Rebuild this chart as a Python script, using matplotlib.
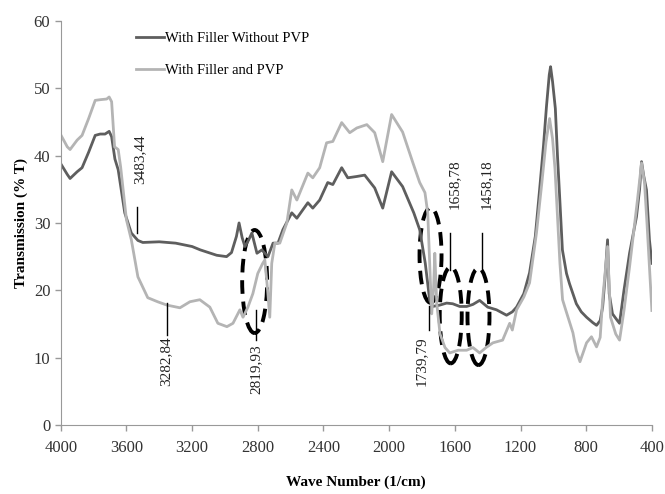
import matplotlib.pyplot as plt
from matplotlib.patches import Ellipse

# FTIR spectra
wn_no_pvp = [4000, 3960, 3943, 3900, 3870, 3830, 3790, 3760, 3730, 3705, 3690, 3670, 3650,
             3610, 3570, 3530, 3500, 3400, 3300, 3200, 3150, 3050, 2990, 2960, 2930, 2914,
             2895, 2878, 2855, 2836, 2805, 2775, 2738, 2707, 2677, 2647, 2593, 2562, 2495,
             2465, 2423, 2374, 2343, 2289, 2252, 2197, 2149, 2088, 2039, 1985, 1918, 1850,
             1814, 1780, 1753, 1735, 1692, 1650, 1613, 1570, 1528, 1490, 1449, 1400, 1346,
             1285, 1250, 1224, 1180, 1145, 1110, 1084, 1060, 1042, 1025, 1017, 1005, 988,
             975, 963, 945, 920, 902, 860, 830, 798, 760, 737, 715, 700, 685, 670, 660, 640,
             610, 597, 570, 536, 494, 475, 463, 450, 433, 415, 400]
t_no_pvp = [38.8, 37.2, 36.6, 37.6, 38.2, 40.5, 43.0, 43.2, 43.2, 43.6, 42.8, 39.5, 37.9,
            31.5, 28.5, 27.4, 27.1, 27.2, 27.0, 26.5, 26.0, 25.2, 25.0, 25.6, 28.0, 30.0,
            27.8, 26.5, 27.5, 28.5, 25.5, 26.0, 25.0, 27.0, 27.0, 29.0, 31.5, 30.7, 33.0,
            32.2, 33.4, 36.0, 35.7, 38.2, 36.7, 36.9, 37.1, 35.2, 32.2, 37.6, 35.4, 31.5,
            29.0, 24.0, 18.5, 17.6, 17.8, 18.1, 18.0, 17.6, 17.6, 17.9, 18.5, 17.5, 17.1,
            16.3, 16.8, 17.5, 19.5, 22.6, 28.0, 34.9, 41.5, 47.3, 52.0, 53.2, 51.0, 47.0,
            40.0, 34.5, 26.0, 22.5, 21.0, 18.0, 16.8, 16.0, 15.2, 14.8, 15.5, 17.5, 22.0,
            27.5, 19.5, 16.5, 15.5, 15.1, 20.0, 25.5, 30.9, 35.0, 39.1, 37.0, 34.9, 27.5, 24.0]

wn_pvp = [4000, 3960, 3943, 3900, 3870, 3830, 3790, 3760, 3720, 3705, 3690, 3672, 3650, 3635,
          3600, 3570, 3530, 3470, 3410, 3353, 3274, 3213, 3153, 3092, 3043, 2988, 2951, 2909,
          2890, 2860, 2830, 2800, 2770, 2757, 2740, 2727, 2715, 2696, 2666, 2623, 2593, 2562,
          2495, 2465, 2423, 2381, 2343, 2289, 2240, 2197, 2136, 2088, 2039, 1985, 1918, 1855,
          1814, 1782, 1765, 1750, 1741, 1730, 1722, 1710, 1690, 1660, 1631, 1580, 1528, 1490,
          1449, 1410, 1368, 1309, 1266, 1250, 1224, 1180, 1145, 1103, 1070, 1045, 1023, 1005,
          990, 975, 960, 944, 925, 881, 860, 838, 815, 798, 768, 737, 715, 700, 670, 652, 620,
          597, 570, 536, 488, 463, 445, 430, 415, 400]
t_pvp = [43.1, 41.3, 40.9, 42.3, 43.0, 45.5, 48.2, 48.3, 48.4, 48.7, 48.0, 41.3, 40.9, 38.3,
         30.5, 27.5, 22.0, 18.9, 18.3, 17.8, 17.4, 18.3, 18.6, 17.5, 15.1, 14.6, 15.1, 17.1,
         16.0, 17.5, 19.5, 22.5, 24.0, 24.5, 20.0, 16.0, 24.0, 27.0, 27.0, 30.0, 34.9, 33.4,
         37.4, 36.7, 38.2, 41.9, 42.1, 44.9, 43.4, 44.1, 44.6, 43.4, 39.1, 46.1, 43.5, 38.9,
         36.0, 34.5, 31.5, 22.0, 16.5, 20.0, 25.5, 18.0, 13.5, 11.5, 10.7, 11.1, 11.1, 11.5,
         10.7, 11.5, 12.2, 12.6, 15.1, 14.1, 17.1, 19.0, 21.1, 28.5, 36.0, 42.0, 45.5, 42.5,
         38.0, 31.0, 24.0, 18.6, 17.1, 13.7, 11.0, 9.4, 11.0, 12.2, 13.1, 11.6, 13.0, 18.6,
         26.5, 16.0, 13.5, 12.6, 17.0, 23.5, 33.4, 38.9, 36.0, 30.0, 23.5, 17.0]

# peak labels: (text, marker x, marker y0, marker y1, text x, text y)
peaks = [("3483,44", 3533, 28.5, 32.4, 3515, 39.4),
         ("3282,84", 3353, 18.1, 13.4, 3362, 9.4),
         ("2819,93", 2812, 17.1, 12.6, 2812, 8.3),
         ("1739,79", 1758, 17.6, 14.1, 1802, 9.4),
         ("1658,78", 1632, 28.5, 23.0, 1602, 35.7),
         ("1458,18", 1437, 28.5, 23.0, 1407, 35.7)]

# dashed circles: (centre x, centre y, width, height)
circles = [(2819, 21.3, 152, 15.3),
           (1748, 25.2, 134, 14.1),
           (1625, 16.3, 134, 14.3),
           (1456, 16.1, 134, 14.4)]

plt.rcParams['font.family'] = ['Liberation Serif', 'DejaVu Serif']

fig = plt.figure(figsize=(6.65, 4.94), dpi=100)
ax = fig.add_axes([0.0913, 0.1397, 0.889, 0.818])

ax.plot(wn_no_pvp, t_no_pvp, color='#5e5e5e', lw=2, label='With Filler Without PVP')
ax.plot(wn_pvp, t_pvp, color='#b4b4b4', lw=2, label='With Filler and PVP')

for txt, mx, y0, y1, tx, ty in peaks:
    ax.plot([mx, mx], [y0, y1], color='black', lw=1)
    ax.text(tx, ty, txt, rotation=90, ha='center', va='center', fontsize=11, color='#222222')

for cx, cy, w, h in circles:
    ax.add_patch(Ellipse((cx, cy), w, h, fill=False, edgecolor='black',
                         lw=2.8, linestyle=(0, (3.5, 2))))

ax.set_xlim(4000, 400)
ax.set_ylim(0, 60)
ax.set_xticks(range(4000, 399, -400))
ax.set_yticks(range(0, 61, 10))
ax.tick_params(labelsize=12, colors='#333333', length=4, width=1)
ax.tick_params(axis='both', color='#999999')
ax.tick_params(axis='x', pad=7)
for s in ['top', 'right']:
    ax.spines[s].set_visible(False)
for s in ['left', 'bottom']:
    ax.spines[s].set_color('#999999')

ax.set_xlabel('Wave Number (1/cm)', fontsize=11, fontweight='bold', labelpad=14)
ax.set_ylabel('Transmission (% T)', fontsize=11, fontweight='bold', labelpad=4)

ax.legend(loc='upper left', bbox_to_anchor=(0.105, 1.005), frameon=False, fontsize=10.5,
          handlelength=1.9, handletextpad=0.1, labelspacing=1.3)

fig.savefig('out.png', dpi=100)
